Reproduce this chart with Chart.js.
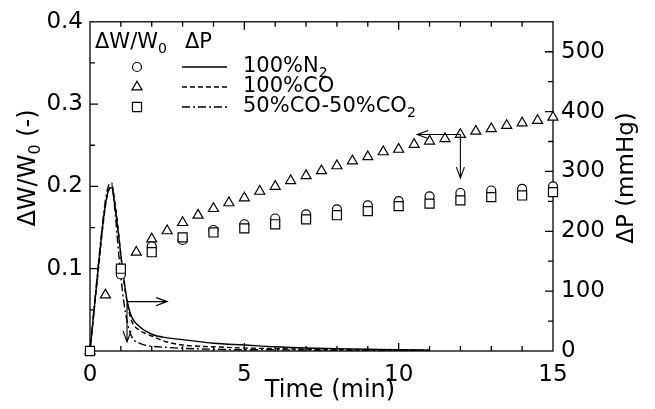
<!DOCTYPE html>
<html>
<head>
<meta charset="utf-8">
<script src="https://cdn.jsdelivr.net/npm/chart.js@4.4.0/dist/chart.umd.min.js"></script>
<style>
  html, body { margin: 0; padding: 0; background: #fff; }
</style>
</head>
<body>
<canvas id="chart" width="655" height="409"></canvas>
<script>
// markers: dW/W0 (left axis)
const triTimes = [0, 0.5, 1.5, 2, 2.5, 3, 3.5, 4, 4.5, 5, 5.5, 6, 6.5, 7, 7.5, 8, 8.5, 9, 9.5, 10, 10.5, 11, 11.5, 12, 12.5, 13, 13.5, 14, 14.5, 15];
const triCO = [0, 0.068, 0.120, 0.136, 0.146, 0.156, 0.165, 0.173, 0.180, 0.186, 0.194, 0.200, 0.207, 0.213, 0.219, 0.225, 0.231, 0.236, 0.242, 0.245, 0.251, 0.255, 0.258, 0.263, 0.267, 0.270, 0.274, 0.277, 0.280, 0.284];
const minuteTimes = [0, 1, 2, 3, 4, 5, 6, 7, 8, 9, 10, 11, 12, 13, 14, 15];
const circN2 = [0, 0.093, 0.127, 0.135, 0.147, 0.154, 0.161, 0.166, 0.172, 0.177, 0.182, 0.188, 0.192, 0.195, 0.197, 0.200];
const sqMix = [0, 0.100, 0.120, 0.138, 0.144, 0.149, 0.154, 0.160, 0.165, 0.170, 0.176, 0.179, 0.183, 0.187, 0.189, 0.193];

// lines: dP in mmHg (right axis)
const dpTimes = [0, 0.1, 0.2, 0.3, 0.4, 0.5, 0.6, 0.7, 0.8, 0.9, 1.0, 1.1, 1.2, 1.35, 1.6, 2, 2.5, 3, 4, 5, 6, 7, 8, 9, 10, 11];
const dpN2 = [0, 52, 104, 156, 205, 245, 268, 273, 245, 205, 160, 120, 85, 57, 41, 28, 22, 19, 13, 10, 7, 5, 4, 3, 2, 1.5];
const dpCO = [0, 50, 100, 150, 200, 242, 268, 277, 252, 210, 160, 115, 82, 50, 35, 25, 15, 10, 7, 5, 4, 3, 2, 2, 1.5, 1];
const dpMix = [0, 55, 108, 160, 210, 252, 276, 281, 240, 180, 125, 80, 50, 24, 13, 8, 6, 4.5, 3, 2, 2, 1.5, 1, 1, 1, 1];

const xTicks = [0, 5, 10, 15];
const leftTicks = [0, 0.1, 0.2, 0.3, 0.4];
const rightTicks = [0, 100, 200, 300, 400, 500];

const seriesNames = ['100%N', '100%CO', '50%CO-50%CO'];
const seriesSubs = ['2', '', '2'];

// arrows in data units of the left axis: [x0, y0, x1, y1]
const arrows = [
  [1.2, 0.060, 2.5, 0.060],
  [1.2, 0.060, 1.2, 0.011],
  [12, 0.263, 10.6, 0.263],
  [12, 0.263, 12, 0.210]
];

const FONT = '"DejaVu Sans", sans-serif';

const pts = (xs, ys) => xs.map((x, i) => ({ x: x, y: ys[i] }));

const markerSet = (data, style, radius, order) => ({
  type: 'scatter',
  data: data,
  yAxisID: 'y',
  pointStyle: style,
  pointRadius: radius,
  pointBorderWidth: 1.2,
  pointBorderColor: '#000',
  pointBackgroundColor: '#fff',
  showLine: false,
  clip: false,
  order: order
});

const lineSet = (data, dash) => ({
  type: 'line',
  data: data,
  yAxisID: 'y2',
  borderColor: '#000',
  borderWidth: 1.4,
  borderDash: dash,
  pointRadius: 0,
  fill: false,
  cubicInterpolationMode: 'monotone',
  clip: false,
  order: 5
});

const dashes = [[], [5, 3], [8, 3, 2, 3]];

function arrow(ctx, x0, y0, x1, y1) {
  const a = Math.atan2(y1 - y0, x1 - x0);
  ctx.beginPath();
  ctx.moveTo(x0, y0);
  ctx.lineTo(x1, y1);
  ctx.moveTo(x1 - 11 * Math.cos(a) + 4 * Math.sin(a), y1 - 11 * Math.sin(a) - 4 * Math.cos(a));
  ctx.lineTo(x1, y1);
  ctx.lineTo(x1 - 11 * Math.cos(a) - 4 * Math.sin(a), y1 - 11 * Math.sin(a) + 4 * Math.cos(a));
  ctx.stroke();
}

function subText(ctx, x, y, main, sub, size) {
  ctx.font = size + 'px ' + FONT;
  ctx.fillText(main, x, y);
  let w = ctx.measureText(main).width;
  if (sub) {
    ctx.font = Math.round(size * 0.66) + 'px ' + FONT;
    ctx.fillText(sub, x + w, y + size * 0.3);
    w += ctx.measureText(sub).width;
  }
  return w;
}

const framePlugin = {
  id: 'frame',
  beforeDatasetsDraw(chart) {
    const { ctx, chartArea: a, scales } = chart;
    ctx.save();
    ctx.strokeStyle = '#000';
    ctx.lineWidth = 1.3;
    ctx.strokeRect(a.left, a.top, a.right - a.left, a.bottom - a.top);
    ctx.beginPath();
    for (let m = 1; m < 15; m++) {
      const px = scales.x.getPixelForValue(m);
      const len = m % 5 === 0 ? 8 : 5;
      ctx.moveTo(px, a.bottom); ctx.lineTo(px, a.bottom - len);
      ctx.moveTo(px, a.top); ctx.lineTo(px, a.top + len);
    }
    for (let k = 1; k < 8; k++) {
      const py = scales.y.getPixelForValue(k * 0.05);
      ctx.moveTo(a.left, py); ctx.lineTo(a.left + (k % 2 === 0 ? 8 : 5), py);
    }
    for (let k = 1; k < 11; k++) {
      const py = scales.y2.getPixelForValue(k * 50);
      ctx.moveTo(a.right, py); ctx.lineTo(a.right - (k % 2 === 0 ? 8 : 5), py);
    }
    ctx.stroke();
    ctx.restore();
  },
  afterDatasetsDraw(chart) {
    const { ctx, scales } = chart;
    const sx = scales.x, sy = scales.y;
    ctx.save();
    ctx.strokeStyle = '#000';
    ctx.fillStyle = '#000';
    ctx.lineWidth = 1.1;
    arrows.forEach(r => arrow(ctx, sx.getPixelForValue(r[0]), sy.getPixelForValue(r[1]),
      sx.getPixelForValue(r[2]), sy.getPixelForValue(r[3])));

    // legend
    ctx.textBaseline = 'middle';
    ctx.textAlign = 'left';
    subText(ctx, 95, 43, '\u0394W/W', '0', 21);
    subText(ctx, 185, 43, '\u0394P', '', 21);
    const rowY = [67, 87, 107];
    const styles = ['circle', 'triangle', 'rect'];
    const radii = [4.5, 5.8, 6.4];
    rowY.forEach((yy, i) => {
      ctx.lineWidth = 1.2;
      ctx.setLineDash([]);
      ctx.fillStyle = '#fff';
      Chart.helpers.drawPoint(ctx, { pointStyle: styles[i], radius: radii[i], borderWidth: 1.2, rotation: 0 }, 137, yy);
      ctx.fillStyle = '#000';
      ctx.lineWidth = 1.4;
      ctx.setLineDash(dashes[i]);
      ctx.beginPath();
      ctx.moveTo(182, yy); ctx.lineTo(227, yy);
      ctx.stroke();
      ctx.setLineDash([]);
      subText(ctx, 243, yy, seriesNames[i], seriesSubs[i], 21);
    });

    // axis titles
    ctx.textAlign = 'left';
    ctx.font = '24px ' + FONT;
    const tt = 'Time (min)';
    ctx.fillText(tt, 330 - ctx.measureText(tt).width / 2, 391);

    ctx.save();
    ctx.translate(29, 168);
    ctx.rotate(-Math.PI / 2);
    ctx.font = '24px ' + FONT;
    let w = ctx.measureText('\u0394W/W').width;
    ctx.font = '16px ' + FONT;
    w += ctx.measureText('0').width;
    ctx.font = '24px ' + FONT;
    w += ctx.measureText(' (-)').width;
    let x0 = -w / 2;
    x0 += subText(ctx, x0, 0, '\u0394W/W', '0', 24);
    ctx.font = '24px ' + FONT;
    ctx.fillText(' (-)', x0, 0);
    ctx.restore();

    ctx.save();
    ctx.translate(627, 178);
    ctx.rotate(-Math.PI / 2);
    ctx.font = '23px ' + FONT;
    const rt = '\u0394P (mmHg)';
    ctx.fillText(rt, -ctx.measureText(rt).width / 2, 0);
    ctx.restore();
    ctx.restore();
  }
};

const tickFont = { family: FONT, size: 23 };

new Chart(document.getElementById('chart').getContext('2d'), {
  data: {
    datasets: [
      lineSet(pts(dpTimes, dpN2), dashes[0]),
      lineSet(pts(dpTimes, dpCO), dashes[1]),
      lineSet(pts(dpTimes, dpMix), dashes[2]),
      markerSet(pts(triTimes, triCO), 'triangle', 5.8, 3),
      markerSet(pts(minuteTimes, circN2), 'circle', 4.5, 2),
      markerSet(pts(minuteTimes, sqMix), 'rect', 6.4, 1)
    ]
  },
  options: {
    responsive: false,
    devicePixelRatio: 1,
    animation: false,
    events: [],
    layout: { padding: { top: 20, left: 0, right: 0, bottom: 0 } },
    plugins: { legend: { display: false }, tooltip: { enabled: false } },
    scales: {
      x: {
        type: 'linear', position: 'bottom', min: 0, max: 15,
        grid: { display: false, drawTicks: false }, border: { display: false },
        ticks: { font: tickFont, color: '#000', padding: 10, maxRotation: 0 },
        afterBuildTicks: s => { s.ticks = xTicks.map(v => ({ value: v })); },
        afterFit: s => { s.height = 58; }
      },
      y: {
        type: 'linear', position: 'left', min: 0, max: 0.4,
        grid: { display: false, drawTicks: false }, border: { display: false },
        ticks: { font: tickFont, color: '#000', padding: 7, callback: v => v === 0 ? '' : v.toFixed(1) },
        afterBuildTicks: s => { s.ticks = leftTicks.map(v => ({ value: v })); },
        afterFit: s => { s.width = 90; }
      },
      y2: {
        type: 'linear', position: 'right', min: 0, max: 550,
        grid: { display: false, drawTicks: false }, border: { display: false },
        ticks: { font: tickFont, color: '#000', padding: 8 },
        afterBuildTicks: s => { s.ticks = rightTicks.map(v => ({ value: v })); },
        afterFit: s => { s.width = 102; }
      }
    }
  },
  plugins: [framePlugin]
});
</script>
</body>
</html>
